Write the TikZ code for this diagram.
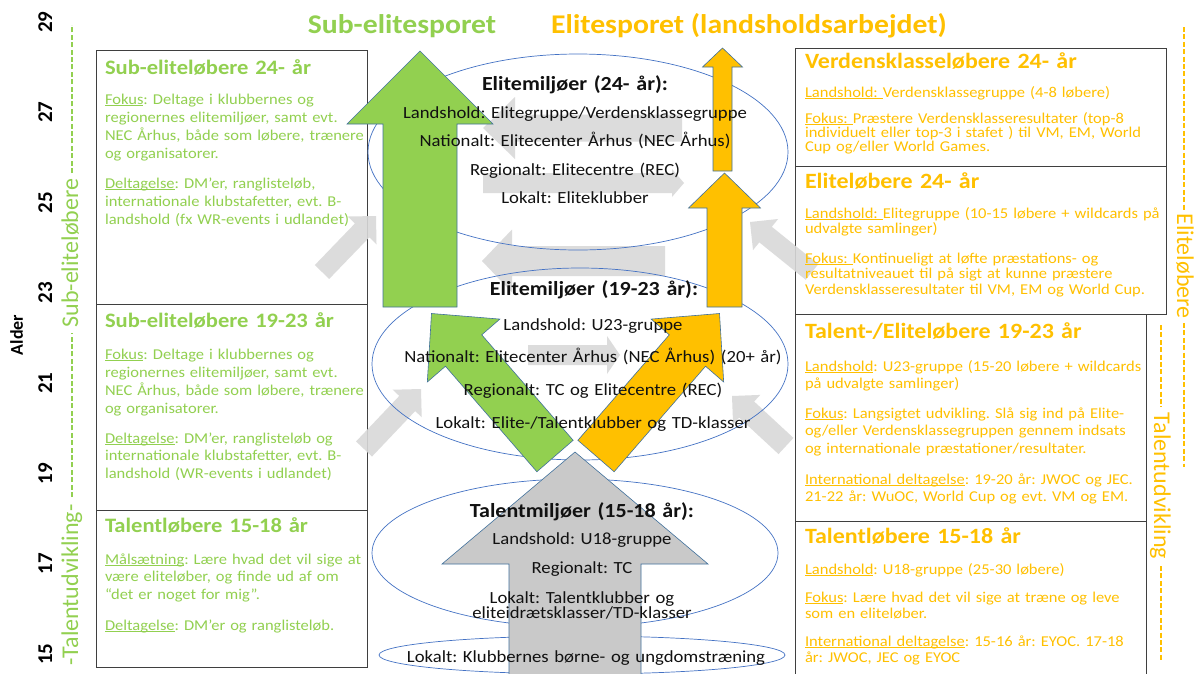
\documentclass[tikz,border=0pt]{standalone}
\usepackage{fontspec}
\setmainfont[FakeStretch=1.1]{Carlito}
\newfontfamily\plainfont{Carlito}
\usetikzlibrary{calc,shapes.geometric}
\definecolor{cgreen}{HTML}{92D050}
\definecolor{cyellow}{HTML}{FFC000}
\definecolor{cblue}{HTML}{4472C4}
\definecolor{cedge}{HTML}{41719C}
\definecolor{cgray}{HTML}{D9D9D9}
\definecolor{cgraybig}{HTML}{C9C9C9}
\definecolor{cbox}{HTML}{3F3F3F}
\definecolor{ctext}{HTML}{111111}
\newcommand{\fs}[2]{\fontsize{#1}{#2}\selectfont\frenchspacing\lineskiplimit=-60pt\relax}
\newcommand{\ulx}[1]{\underline{\smash{#1}}}
\newcommand{\blockarrow}[7]{%
  \coordinate (#2T) at #3;
  \coordinate (#2P) at #4;
  \coordinate (#2B) at ($(#2P)!#7!(#2T)$);
  \path[#1] ($(#2T)!#5!90:(#2P)$) -- ($(#2B)!#5!90:(#2P)$) -- ($(#2B)!#6!90:(#2P)$) -- (#2P) -- ($(#2B)!#6!-90:(#2P)$) -- ($(#2B)!#5!-90:(#2P)$) -- ($(#2T)!#5!-90:(#2P)$) -- cycle;
}
\begin{document}
\begin{tikzpicture}[x=1pt,y=-1pt,
  every node/.style={inner sep=0pt, outer sep=0pt},
  boxframe/.style={draw=cbox, line width=1pt, anchor=north west},
  envell/.style={ellipse, draw=cblue, line width=0.7pt},
  greenarr/.style={fill=cgreen, draw=cedge, line width=0.6pt},
  yellowarr/.style={fill=cyellow, draw=cedge, line width=0.6pt},
  bigarr/.style={fill=cgraybig, draw=cedge, line width=0.6pt},
  softarr/.style={fill=cgray, fill opacity=0.9},
  gtxt/.style={text=cgreen, anchor=base west, align=left, text width=300},
  ytxt/.style={text=cyellow, anchor=base west, align=left, text width=380},
  ctxt/.style={text=ctext, anchor=base, align=center, text width=440},
  agetxt/.style={font=\plainfont\bfseries\fs{21}{24}, rotate=90, anchor=base, text=black},
  sidetxt/.style={font=\plainfont\fs{24}{26}, anchor=base},
  gdash/.style={draw=cgreen, line width=1.4pt, dash pattern=on 5pt off 2.4pt},
  ydash/.style={draw=cyellow, line width=1.4pt, dash pattern=on 5pt off 2.4pt},
  ltitle/.style={font=\bfseries\fs{20.5}{24}},
  rtitle/.style={font=\bfseries\fs{21.8}{24}},
]
\useasboundingbox (0,0) rectangle (1195,673);
\fill[white] (0,0) rectangle (1195,673);

% ---------- boxes ----------
\node[boxframe, minimum width=271, minimum height=254] (lb1) at (96,50) {};
\node[boxframe, minimum width=271, minimum height=206] (lb2) at (96,304) {};
\node[boxframe, minimum width=271, minimum height=157] (lb3) at (96,510) {};
\node[boxframe, minimum width=371, minimum height=118] (rb1) at (795,48) {};
\node[boxframe, minimum width=371, minimum height=148] (rb2) at (795,166) {};
\node[boxframe, minimum width=351, minimum height=207] (rb3) at (795,314) {};
\node[boxframe, minimum width=351, minimum height=156] (rb4) at (795,521) {};

% ---------- soft gray arrows ----------
\blockarrow{softarr}{ga}{(682,128)}{(483,128)}{13.5pt}{31pt}{32pt}
\blockarrow{softarr}{gb}{(483,183)}{(684,183)}{10pt}{14pt}{12pt}
\blockarrow{softarr}{gc}{(665,261)}{(482,261)}{15pt}{31.5pt}{30pt}
\blockarrow{softarr}{gd}{(528,355)}{(620,355)}{10pt}{19pt}{13pt}
\blockarrow{softarr}{ge}{(322,272)}{(376,216)}{10pt}{20pt}{20pt}
\blockarrow{softarr}{gf}{(364,449)}{(421,389)}{11pt}{20pt}{20pt}
\blockarrow{softarr}{gg}{(812,272)}{(750,222)}{10pt}{20pt}{20pt}
\blockarrow{softarr}{gh}{(786,446)}{(732,396)}{11pt}{20pt}{20pt}

% ---------- ellipses ----------
\node[envell, minimum width=420, minimum height=196] (e1) at (578,152) {};
\node[envell, minimum width=416, minimum height=192] (e2) at (580,364) {};
\node[envell, minimum width=406, minimum height=148] (e3) at (575,553) {};
\node[envell, minimum width=406, minimum height=38] (e4) at (582,655) {};

% ---------- coloured arrows ----------
\blockarrow{greenarr}{a1}{(420,307)}{(420,51)}{37pt}{73pt}{73pt}
\blockarrow{yellowarr}{a2}{(722.5,171)}{(722.5,48)}{9.5pt}{20pt}{19pt}
\blockarrow{yellowarr}{a3}{(724.5,307)}{(724.5,173)}{17.5pt}{36pt}{35pt}
\blockarrow{greenarr}{a4}{(555,456)}{(431.5,313.5)}{24pt}{48pt}{49pt}
\blockarrow{yellowarr}{a5}{(596,456)}{(719.5,313.5)}{24pt}{48pt}{49pt}
\blockarrow{bigarr}{a6}{(575,690)}{(575,452)}{66pt}{133pt}{112pt}

% ---------- top titles ----------
\node[font=\bfseries\fs{27}{30}, text=cgreen, anchor=base] (t1) at (402,33) {Sub-elitesporet};
\node[font=\bfseries\fs{27}{30}, text=cyellow, anchor=base] (t2) at (749,33) {Elitesporet (landsholdsarbejdet)};

% ---------- age axis ----------
\foreach \a [count=\i from 0] in {29,27,25,23,21,19,17,15}
  \node[agetxt] (age\a) at (52,{22+90.3*\i}) {\a};
\node[font=\plainfont\bfseries\fs{18}{20}, rotate=90, anchor=base] (alder) at (23,335) {Alder};

% ---------- side labels ----------
\node[sidetxt, text=cgreen, rotate=90] (gl1) at (78,585) {-Talentudvikling-};
\node[sidetxt, text=cgreen, rotate=90] (gl2) at (78,253) {Sub-eliteløbere};
\draw[gdash] (72,497) -- (72,333);
\draw[gdash] (72,173) -- (72,25);
\node[sidetxt, text=cyellow, rotate=-90] (yl1) at (1177,266) {Eliteløbere};
\draw[ydash] (1184,27) -- (1184,210);
\draw[ydash] (1184,323) -- (1184,467);
\node[sidetxt, text=cyellow, rotate=-90] (yl2) at (1154,486) {Talentudvikling};
\draw[ydash] (1161,325) -- (1161,407);
\draw[ydash] (1161,566) -- (1161,662);

% ---------- left box texts ----------
\node[gtxt, ltitle] (lb1h) at (105,74) {Sub-eliteløbere 24- år};
\node[gtxt, font=\fs{15}{18.2}] (lb1a) at (105,104) {\ulx{Fokus}: Deltage i klubbernes og\\regionernes elitemiljøer, samt evt.\\NEC Århus, både som løbere, trænere\\og organisatorer.};
\node[gtxt, font=\fs{15}{18}] (lb1b) at (105,188) {\ulx{Deltagelse}: DM’er, ranglisteløb,\\internationale klubstafetter, evt. B-\\landshold (fx WR-events i udlandet)};

\node[gtxt, ltitle] (lb2h) at (105,327) {Sub-eliteløbere 19-23 år};
\node[gtxt, font=\fs{15}{18}] (lb2a) at (105,359) {\ulx{Fokus}: Deltage i klubbernes og\\regionernes elitemiljøer, samt evt.\\NEC Århus, både som løbere, trænere\\og organisatorer.};
\node[gtxt, font=\fs{15}{17.6}] (lb2b) at (105,443) {\ulx{Deltagelse}: DM’er, ranglisteløb og\\internationale klubstafetter, evt. B-\\landshold (WR-events i udlandet)};

\node[gtxt, ltitle] (lb3h) at (105,532) {Talentløbere 15-18 år};
\node[gtxt, font=\fs{15}{17.7}] (lb3a) at (105,564) {\ulx{Målsætning}: Lære hvad det vil sige at\\være eliteløber, og finde ud af om\\“det er noget for mig”.};
\node[gtxt, font=\fs{15}{18}] (lb3b) at (105,630) {\ulx{Deltagelse}: DM’er og ranglisteløb.};

% ---------- right box texts ----------
\node[ytxt, rtitle] (rb1h) at (805,68) {Verdensklasseløbere 24- år};
\node[ytxt, font=\fs{15}{14}] (rb1a) at (805,97) {\ulx{Landshold:\ }Verdensklassegruppe (4-8 løbere)};
\node[ytxt, font=\fs{15}{14}] (rb1b) at (805,123) {\ulx{Fokus:\ }Præstere Verdensklasseresultater (top-8\\individuelt eller top-3 i stafet ) til VM, EM, World\\Cup og/eller World Games.};

\node[ytxt, rtitle] (rb2h) at (805,188) {Eliteløbere 24- år};
\node[ytxt, font=\fs{15}{15.3}] (rb2a) at (805,218) {\ulx{Landshold:\ }Elitegruppe (10-15 løbere + wildcards på\\udvalgte samlinger)};
\node[ytxt, font=\fs{15}{15.5}] (rb2b) at (805,263) {\ulx{Fokus:\ }Kontinueligt at løfte præstations- og\\resultatniveauet til på sigt at kunne præstere\\Verdensklasseresultater til VM, EM og World Cup.};

\node[ytxt, rtitle] (rb3h) at (805,338) {Talent-/Eliteløbere 19-23 år};
\node[ytxt, font=\fs{15}{17.3}] (rb3a) at (805,371) {\ulx{Landshold}: U23-gruppe (15-20 løbere + wildcards\\på udvalgte samlinger)};
\node[ytxt, font=\fs{15}{17.5}] (rb3b) at (805,418) {\ulx{Fokus}: Langsigtet udvikling. Slå sig ind på Elite-\\og/eller Verdensklassegruppen gennem indsats\\og internationale præstationer/resultater.};
\node[ytxt, font=\fs{15}{17.6}] (rb3c) at (805,484) {\ulx{International deltagelse}: 19-20 år: JWOC og JEC.\\21-22 år: WuOC, World Cup og evt. VM og EM.};

\node[ytxt, rtitle] (rb4h) at (805,543) {Talentløbere 15-18 år};
\node[ytxt, font=\fs{15}{16}] (rb4a) at (805,574) {\ulx{Landshold}: U18-gruppe (25-30 løbere)};
\node[ytxt, font=\fs{15}{16}] (rb4b) at (805,602) {\ulx{Fokus}: Lære hvad det vil sige at træne og leve\\som en eliteløber.};
\node[ytxt, font=\fs{15}{16}] (rb4c) at (805,646) {\ulx{International deltagelse}: 15-16 år: EYOC. 17-18\\år: JWOC, JEC og EYOC};

% ---------- centre texts ----------
\node[ctxt, font=\bfseries\fs{20}{24}] (e1h) at (575,90) {Elitemiljøer (24- år):};
\node[ctxt, font=\fs{17}{28.5}] (e1t) at (575,118) {Landshold: Elitegruppe/Verdensklassegruppe\\Nationalt: Elitecenter Århus (NEC Århus)\\Regionalt: Elitecentre (REC)\\Lokalt: Eliteklubber};
\node[ctxt, font=\bfseries\fs{20}{24}] (e2h) at (594,295) {Elitemiljøer (19-23 år):};
\node[ctxt, font=\fs{17}{32.7}] (e2t) at (593,330) {Landshold: U23-gruppe\\Nationalt: Elitecenter Århus (NEC Århus) (20+ år)\\Regionalt: TC og Elitecentre (REC)\\Lokalt: Elite-/Talentklubber og TD-klasser};
\node[ctxt, font=\bfseries\fs{20}{24}] (e3h) at (582,517) {Talentmiljøer (15-18 år):};
\node[ctxt, font=\fs{17}{29}] (e3t) at (582,544) {Landshold: U18-gruppe\\Regionalt: TC};
\node[ctxt, font=\fs{17}{15}] (e3u) at (582,603) {Lokalt: Talentklubber og\\eliteidrætsklasser/TD-klasser};
\node[ctxt, font=\fs{17}{20}] (e4t) at (586,662) {Lokalt: Klubbernes børne- og ungdomstræning};
\end{tikzpicture}
\end{document}
